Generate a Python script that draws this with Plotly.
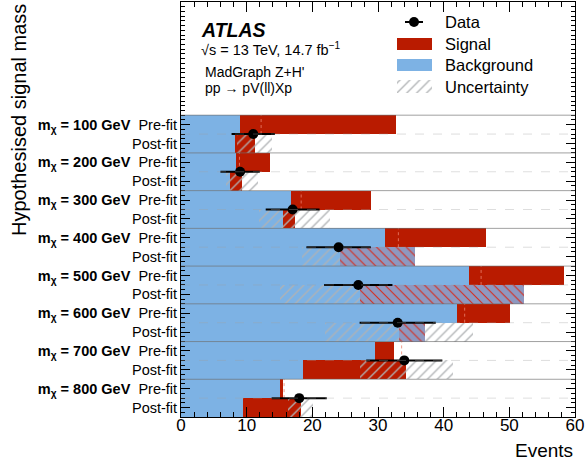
import plotly.graph_objects as go

# ---------------- data ----------------
masses = [100, 200, 300, 400, 500, 600, 700, 800]
bkg_pre = [9.05, 8.3, 16.8, 31.1, 43.9, 42.1, 29.6, 15.1]
sig_pre = [23.65, 5.2, 12.1, 15.3, 14.4, 8.0, 2.9, 0.5]
prefit_dotted = [12.2, 8.9, 18.3, 33.1, 45.7, 43.2, 33.6, 15.7]
bkg_post = [8.2, 7.4, 15.6, 35.7, 52.3, 37.1, 18.6, 9.4]
sig_post = [3.0, 1.9, 1.7, -11.5, -25.1, -3.9, 15.7, 8.8]
unc_post = [2.7, 2.45, 5.4, 5.8, 12.2, 11.2, 7.1, 1.95]
data = [11, 9, 17, 24, 27, 33, 34, 18]
data_err = [3.3, 3.0, 4.1, 4.9, 5.2, 5.8, 5.8, 4.2]

# ---------------- styles ----------------
FONT = "Liberation Sans, Arial, Helvetica, sans-serif"
BLUE = "rgb(125,178,228)"
RED = "rgb(185,27,0)"
HATCH = "rgba(175,178,180,0.95)"
NEG_BG = "rgb(142,152,192)"
NEG_FG = "rgb(215,45,30)"

n = len(masses)
y_pre = [15.5 - 2 * i for i in range(n)]
y_post = [14.5 - 2 * i for i in range(n)]
y_data = [15.0 - 2 * i for i in range(n)]

fig = go.Figure()

# background bars
fig.add_trace(go.Bar(orientation="h", y=y_pre + y_post, x=bkg_pre + bkg_post,
                     base=[0] * (2 * n), width=1, marker=dict(color=BLUE, line=dict(width=0))))
# pre-fit signal
fig.add_trace(go.Bar(orientation="h", y=y_pre, x=sig_pre, base=bkg_pre, width=1,
                     marker=dict(color=RED, line=dict(width=0))))
# post-fit signal split by sign
pos_y, pos_x, pos_b = [], [], []
neg_y, neg_x, neg_b = [], [], []
for i in range(n):
    if sig_post[i] >= 0:
        pos_y.append(y_post[i]); pos_x.append(sig_post[i]); pos_b.append(bkg_post[i])
    else:
        neg_y.append(y_post[i]); neg_x.append(-sig_post[i]); neg_b.append(bkg_post[i] + sig_post[i])
fig.add_trace(go.Bar(orientation="h", y=pos_y, x=pos_x, base=pos_b, width=1,
                     marker=dict(color=RED, line=dict(width=0))))
# uncertainty band (post-fit)
tot_post = [bkg_post[i] + sig_post[i] for i in range(n)]
fig.add_trace(go.Bar(orientation="h", y=y_post, x=[2 * u for u in unc_post],
                     base=[tot_post[i] - unc_post[i] for i in range(n)], width=1,
                     marker=dict(color="rgba(0,0,0,0)", line=dict(width=0),
                                 pattern=dict(shape="/", fgcolor=HATCH, bgcolor="rgba(0,0,0,0)",
                                              size=7, solidity=0.2, fillmode="replace"))))
# post-fit negative signal
fig.add_trace(go.Bar(orientation="h", y=neg_y, x=neg_x, base=neg_b, width=1,
                     marker=dict(color=NEG_BG, line=dict(width=0),
                                 pattern=dict(shape="\\", fgcolor=NEG_FG, bgcolor=NEG_BG,
                                              size=7, solidity=0.16, fillmode="replace"))))
# dotted reference lines in pre-fit rows
dx, dy = [], []
for i in range(n):
    dx += [prefit_dotted[i], prefit_dotted[i], None]
    dy += [y_pre[i] - 0.5, y_pre[i] + 0.5, None]
fig.add_trace(go.Scatter(x=dx, y=dy, mode="lines",
                         line=dict(color="rgba(235,130,110,0.8)", width=1, dash="dot")))

# separator lines
shapes = []
for k in range(n):
    yb = 16 - 2 * k
    shapes.append(dict(type="line", xref="paper", x0=0, x1=1, yref="y", y0=yb, y1=yb,
                       line=dict(color="rgba(110,110,110,0.65)", width=1), layer="above"))
    shapes.append(dict(type="line", xref="paper", x0=0, x1=1, yref="y", y0=yb - 1, y1=yb - 1,
                       line=dict(color="rgba(160,160,160,0.35)", width=1, dash="dash"), layer="above"))

# data
fig.add_trace(go.Scatter(x=data, y=y_data, mode="markers",
                         marker=dict(color="black", size=10),
                         error_x=dict(type="data", array=data_err, color="black",
                                      thickness=2, width=0)))

# ---------------- legend (pixel axes overlay) ----------------
fig.add_trace(go.Scatter(x=[405, 423], y=[22, 22], mode="lines", xaxis="x2", yaxis="y2",
                         line=dict(color="black", width=2)))
fig.add_trace(go.Scatter(x=[414], y=[22], mode="markers", xaxis="x2", yaxis="y2",
                         marker=dict(color="black", size=10)))
fig.add_trace(go.Bar(orientation="h", y=[44], x=[35], base=[397], width=12.5, xaxis="x2", yaxis="y2",
                     marker=dict(color=RED, line=dict(width=0))))
fig.add_trace(go.Bar(orientation="h", y=[65], x=[35], base=[397], width=12.5, xaxis="x2", yaxis="y2",
                     marker=dict(color=BLUE, line=dict(width=0))))
fig.add_trace(go.Bar(orientation="h", y=[86], x=[35], base=[397], width=13, xaxis="x2", yaxis="y2",
                     marker=dict(color="rgba(0,0,0,0)", line=dict(width=0),
                                 pattern=dict(shape="/", fgcolor=HATCH, bgcolor="rgba(0,0,0,0)",
                                              size=7, solidity=0.2, fillmode="replace"))))

ann = []
def txt(x, y, s, size, xanchor="left"):
    ann.append(dict(x=x, y=y, xref="x2", yref="y2", text=s,
                    showarrow=False, xanchor=xanchor, yanchor="middle",
                    font=dict(family=FONT, size=size, color="black")))

txt(443, 22, "Data", 16.5)
txt(443, 44, "Signal", 16.5)
txt(443, 65, "Background", 16.5)
txt(443, 87, "Uncertainty", 16.5)
txt(199, 30, "<b><i>ATLAS</i></b>", 19.5)
txt(199, 49, "√s = 13 TeV, 14.7 fb<sup>−1</sup>", 14.5)
txt(203, 72, "MadGraph Z+H'", 14)
txt(203, 88, "pp → pV(ll)Xp", 14)

# axis titles
ann.append(dict(x=1.0, y=-(450 - 417) / 415, xref="paper", yref="paper", text="Events", showarrow=False,
                xanchor="right", yanchor="middle", font=dict(family=FONT, size=19, color="black")))
ann.append(dict(x=(19 - 181) / 394, y=1.0, xref="paper", yref="paper", text="Hypothesised signal mass",
                showarrow=False, textangle=-90, xanchor="center", yanchor="top",
                font=dict(family=FONT, size=20, color="black")))

tickvals, ticktext = [], []
for i, m in enumerate(masses):
    tickvals += [y_pre[i], y_post[i]]
    ticktext += [f"<b>m<sub>χ</sub> = {m} GeV</b>  Pre-fit", "Post-fit"]

fig.update_layout(
    width=586, height=468, margin=dict(l=181, r=11, t=2, b=51),
    plot_bgcolor="white", paper_bgcolor="white", showlegend=False,
    barmode="overlay", bargap=0,
    font=dict(family=FONT, color="black"),
    shapes=shapes, annotations=ann,
    xaxis=dict(range=[0, 60], dtick=10, tick0=0, ticks="inside", ticklen=10, tickwidth=1,
               tickcolor="black", showline=True, linecolor="black", linewidth=1, mirror="allticks",
               showgrid=False, zeroline=False, tickfont=dict(size=17, family=FONT),
               ticklabelstandoff=-7,
               minor=dict(dtick=2, ticklen=5, ticks="inside", tickcolor="black")),
    yaxis=dict(range=[0, 22], tickmode="array", tickvals=tickvals, ticktext=ticktext,
               ticks="inside", ticklen=9, tickcolor="black", showline=True, linecolor="black",
               linewidth=1, mirror="allticks", showgrid=False, zeroline=False,
               tickfont=dict(size=14.5, family=FONT),
               minor=dict(tickmode="linear", tick0=0, dtick=0.25, ticklen=4, ticks="inside",
                          tickcolor="black")),
    xaxis2=dict(overlaying="x", range=[181, 575], visible=False, fixedrange=True),
    yaxis2=dict(overlaying="y", range=[417, 2], visible=False, fixedrange=True),
)

fig.write_html("out.html")
